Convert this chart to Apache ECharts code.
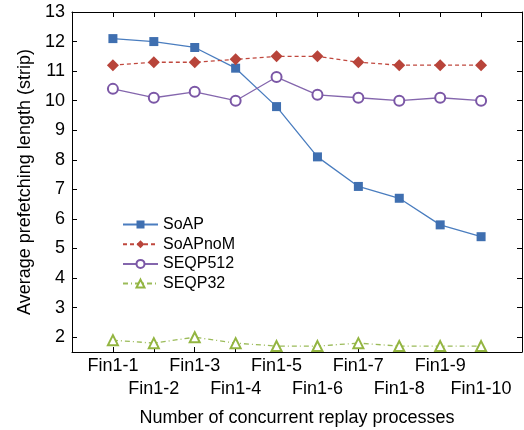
<!DOCTYPE html>
<html>
<head>
<meta charset="utf-8">
<script src="https://cdn.jsdelivr.net/npm/echarts@6/dist/echarts.min.js"></script>
<style>
  html, body { margin: 0; padding: 0; background: #fff; }
  #chart { width: 524px; height: 430px; }
</style>
</head>
<body>
<div id="chart"></div>
<script>
// Trace categories (replay workloads) and per-series average prefetching lengths
const categories = ['Fin1-1', 'Fin1-2', 'Fin1-3', 'Fin1-4', 'Fin1-5', 'Fin1-6', 'Fin1-7', 'Fin1-8', 'Fin1-9', 'Fin1-10'];
const soap     = [12.1, 12.0, 11.8, 11.1, 9.8, 8.1, 7.1, 6.7, 5.8, 5.4];
const soapNoM  = [11.2, 11.3, 11.3, 11.4, 11.5, 11.5, 11.3, 11.2, 11.2, 11.2];
const seqp512  = [10.4, 10.1, 10.3, 10.0, 10.8, 10.2, 10.1, 10.0, 10.1, 10.0];
const seqp32   = [1.9, 1.8, 2.0, 1.8, 1.7, 1.7, 1.8, 1.7, 1.7, 1.7];
const yTicks   = [2, 3, 4, 5, 6, 7, 8, 9, 10, 11, 12, 13];

const xPositions = categories.map((_, i) => i + 1);
// category labels alternate between two rows below the axis
const xOddRow  = xPositions.filter(p => p % 2 === 1);
const xEvenRow = xPositions.filter(p => p % 2 === 0);
const toPoints = arr => arr.map((v, i) => [i + 1, v]);

const FONT = '"Liberation Sans", Arial, Helvetica, sans-serif';
const axisLine = { show: true, onZero: false, lineStyle: { color: '#000', width: 1 } };
const catLabel = v => categories[v - 1] || '';

const chart = echarts.init(document.getElementById('chart'), null, { renderer: 'canvas' });

chart.setOption({
  animation: false,
  backgroundColor: '#fff',
  textStyle: { fontFamily: FONT },
  grid: { left: 72, right: 2, top: 12, bottom: 78, containLabel: false, outerBoundsMode: 'none' },
  legend: {
    orient: 'vertical',
    left: 122,
    top: 216.5,
    padding: 0,
    itemWidth: 35,
    itemHeight: 10,
    itemGap: 3.7,
    textStyle: { fontFamily: FONT, fontSize: 16, color: '#000', lineHeight: 14 },
    data: ['SoAP', 'SoAPnoM', 'SEQP512', 'SEQP32']
  },
  xAxis: [
    {
      type: 'value', min: 0, max: 11, position: 'bottom',
      axisLine,
      splitLine: { show: false },
      axisTick: { show: true, inside: true, length: 5, customValues: xPositions, lineStyle: { color: '#000' } },
      axisLabel: {
        customValues: xOddRow,
        showMinLabel: true, showMaxLabel: true, hideOverlap: false,
        fontFamily: FONT, fontSize: 18, color: '#000', margin: 5,
        formatter: catLabel
      },
      name: 'Number of concurrent replay processes',
      nameLocation: 'middle', nameGap: 57,
      nameTextStyle: { fontFamily: FONT, fontSize: 18, color: '#000' }
    },
    {
      type: 'value', min: 0, max: 11, position: 'top',
      axisLine,
      splitLine: { show: false },
      axisTick: { show: true, inside: true, length: 5, customValues: xPositions, lineStyle: { color: '#000' } },
      axisLabel: { show: false }
    },
    {
      type: 'value', min: 0, max: 11, position: 'bottom', offset: 0,
      axisLine: { show: false },
      splitLine: { show: false },
      axisTick: { show: false },
      axisLabel: {
        customValues: xEvenRow,
        showMinLabel: true, showMaxLabel: true, hideOverlap: false,
        fontFamily: FONT, fontSize: 18, color: '#000', margin: 28,
        formatter: catLabel
      }
    }
  ],
  yAxis: [
    {
      type: 'value', min: 1.5, max: 13, position: 'left',
      axisLine,
      splitLine: { show: false },
      axisTick: { show: true, inside: true, length: 5, customValues: yTicks, lineStyle: { color: '#000' } },
      axisLabel: { customValues: yTicks, fontFamily: FONT, fontSize: 18, color: '#000', margin: 7 },
      name: 'Average prefetching length (strip)',
      nameLocation: 'middle', nameGap: 36,
      nameTextStyle: { fontFamily: FONT, fontSize: 18, color: '#000' }
    },
    {
      type: 'value', min: 1.5, max: 13, position: 'right',
      axisLine,
      splitLine: { show: false },
      axisTick: { show: true, inside: true, length: 5, customValues: yTicks, lineStyle: { color: '#000' } },
      axisLabel: { show: false }
    }
  ],
  series: [
    {
      name: 'SoAP', type: 'line', data: toPoints(soap),
      symbol: 'rect', symbolSize: 9,
      itemStyle: { color: '#3f6fb0' },
      lineStyle: { color: '#4a7dbf', width: 1.3 }
    },
    {
      name: 'SoAPnoM', type: 'line', data: toPoints(soapNoM),
      symbol: 'diamond', symbolSize: 12,
      itemStyle: { color: '#b8443a' },
      lineStyle: { color: '#c0483e', width: 1.3, type: [4, 3] }
    },
    {
      name: 'SEQP512', type: 'line', data: toPoints(seqp512),
      symbol: 'emptyCircle', symbolSize: 10,
      itemStyle: { color: '#7b57a6', borderWidth: 1.3 },
      lineStyle: { color: '#8466ad', width: 1.3 }
    },
    {
      name: 'SEQP32', type: 'line', data: toPoints(seqp32),
      symbol: 'emptyTriangle', symbolSize: 10,
      itemStyle: { color: '#93b541', borderWidth: 1.3 },
      lineStyle: { color: '#9bbb59', width: 1.3, type: [5, 3, 1, 3] }
    }
  ]
});
</script>
</body>
</html>
